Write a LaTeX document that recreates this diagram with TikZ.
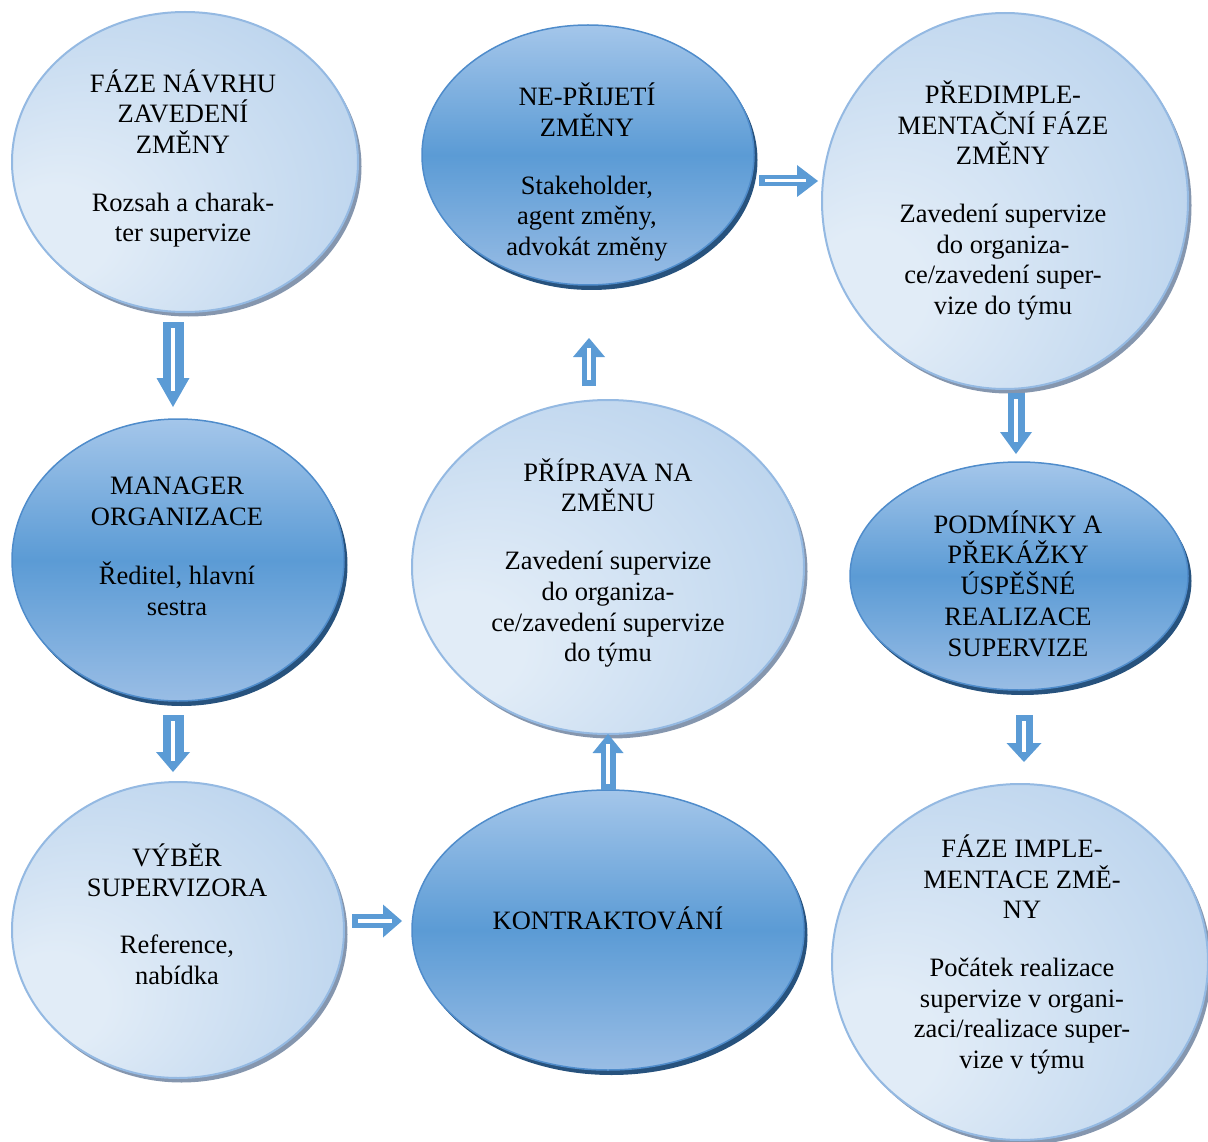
\documentclass[tikz,border=0pt]{standalone}
\usepackage{fontspec}
\setmainfont{Liberation Serif}
\usetikzlibrary{shapes.geometric,arrows.meta,calc,shadows}

% palette
\definecolor{arrowblue}{HTML}{5B9BD5}
\definecolor{orbin}{HTML}{E1ECF7}
\definecolor{orbmid}{HTML}{C2D8EF}
\definecolor{orbout}{HTML}{A0C1E5}
\definecolor{orbedge}{HTML}{94B9E2}
\definecolor{orbshadow}{HTML}{8596AE}
\definecolor{deeptop}{HTML}{A4C6EA}
\definecolor{deepmid}{HTML}{5B9BD5}
\definecolor{deepbot}{HTML}{99BDE5}
\definecolor{deepedge}{HTML}{4F8CCB}
\definecolor{deepshadow}{HTML}{27527D}

% soft off-centre glow for the pale stages
\pgfdeclareradialshading{lightorb}{\pgfpoint{-22bp}{-14bp}}{%
  color(0bp)=(orbin); color(8bp)=(orbin); color(32bp)=(orbmid); color(56bp)=(orbout)}

\tikzset{
  paleorb/.style={ellipse, inner sep=0pt, draw=orbedge, line width=2pt,
    shade, shading=lightorb,
    drop shadow={shadow xshift=3.5pt, shadow yshift=-4.5pt, fill=orbshadow, opacity=1}},
  deeporb/.style={ellipse, inner sep=0pt, draw=deepedge, line width=1.5pt,
    top color=deeptop, bottom color=deepbot, middle color=deepmid,
    drop shadow={shadow xshift=3.5pt, shadow yshift=-5pt, fill=deepshadow, opacity=1}},
  orbtext/.style={align=center, inner sep=0pt,
    font=\fontsize{26.5}{30.7}\selectfont},
}

% hollow block arrow: from, to, shaft width, head width, head length, stripe width
\newcommand\flowarrow[6]{%
  \draw[arrowblue, line width=#3,
        -{Triangle[width=#4, length=#5, line width=0pt]}] (#1) -- (#2);
  \draw[white, line width=#6] ($(#1)!6pt!(#2)$) -- ($(#2)!0.55*#5!(#1)$);
}

\begin{document}
\begin{tikzpicture}[x=1pt, y=-1pt]
\useasboundingbox (0,0) rectangle (1208,1142);

% stages
\node[paleorb, minimum width=346pt, minimum height=300pt] (e1) at (185,162) {};
\node[deeporb, minimum width=332pt, minimum height=282pt] (e2) at (178,560) {};
\node[paleorb, minimum width=332pt, minimum height=296pt] (e3) at (178,930) {};
\node[deeporb, minimum width=332pt, minimum height=260pt] (e4) at (588,155) {};
\node[paleorb, minimum width=392pt, minimum height=334pt] (e5) at (608,567) {};
\node[deeporb, minimum width=392pt, minimum height=280pt] (e6) at (608,930) {};
\node[paleorb, minimum width=366pt, minimum height=376pt] (e7) at (1005,201) {};
\node[deeporb, minimum width=338pt, minimum height=228pt] (e8) at (1019,576) {};
\node[paleorb, minimum width=376pt, minimum height=356pt] (e9) at (1020,962) {};

% stage texts
\node[orbtext] (t1) at (183,158.5) {FÁZE NÁVRHU\\ZAVEDENÍ\\ZMĚNY\\[27pt]Rozsah a charak-\\ter supervize};
\node[orbtext] (t2) at (177,546.5) {MANAGER\\ORGANIZACE\\[29pt]Ředitel, hlavní\\sestra};
\node[orbtext] (t3) at (177,914) {VÝBĚR\\SUPERVIZORA\\[26pt]Reference,\\nabídka};
\node[orbtext] (t4) at (587,172) {NE-PŘIJETÍ\\ZMĚNY\\[27pt]Stakeholder,\\agent změny,\\advokát změny};
\node[orbtext] (t5) at (608,563) {PŘÍPRAVA NA\\ZMĚNU\\[27pt]Zavedení supervize\\do organiza-\\ce/zavedení supervize\\do týmu};
\node[orbtext] (t6) at (608,918) {KONTRAKTOVÁNÍ};
\node[orbtext] (t7) at (1003,200.5) {PŘEDIMPLE-\\MENTAČNÍ FÁZE\\ZMĚNY\\[27pt]Zavedení supervize\\do organiza-\\ce/zavedení super-\\vize do týmu};
\node[orbtext] (t8) at (1018,583.5) {PODMÍNKY A\\PŘEKÁŽKY\\ÚSPĚŠNÉ\\REALIZACE\\SUPERVIZE};
\node[orbtext] (t9) at (1022,954.5) {FÁZE IMPLE-\\MENTACE ZMĚ-\\NY\\[27pt]Počátek realizace\\supervize v organi-\\zaci/realizace super-\\vize v týmu};

% arrow ends between the stages
\coordinate (e1-out) at (173,322);  \coordinate (e2-in) at (173,407);
\coordinate (e2-out) at (173,715);  \coordinate (e3-in) at (173,772);
\coordinate (e3-out) at (352,921);  \coordinate (e6-in) at (402,921);
\coordinate (e6-out) at (608,790);  \coordinate (e5-in) at (608,734);
\coordinate (e5-out) at (589,386);  \coordinate (e4-in) at (589,338);
\coordinate (e4-out) at (759,181);  \coordinate (e7-in) at (818,181);
\coordinate (e7-out) at (1016,393); \coordinate (e8-in) at (1016,454);
\coordinate (e8-out) at (1024,715); \coordinate (e9-in) at (1024,762);

% flow
\flowarrow{e1-out}{e2-in}{21pt}{33pt}{29pt}{4.5pt}
\flowarrow{e2-out}{e3-in}{21pt}{34pt}{20pt}{4.5pt}
\flowarrow{e3-out}{e6-in}{14pt}{33pt}{19pt}{3.5pt}
\flowarrow{e6-out}{e5-in}{15pt}{31pt}{19pt}{3.5pt}
\flowarrow{e5-out}{e4-in}{14pt}{32pt}{19pt}{3.5pt}
\flowarrow{e4-out}{e7-in}{11pt}{32pt}{21pt}{3pt}
\flowarrow{e7-out}{e8-in}{17pt}{32pt}{22pt}{4pt}
\flowarrow{e8-out}{e9-in}{17pt}{35pt}{19pt}{4pt}
\end{tikzpicture}
\end{document}
